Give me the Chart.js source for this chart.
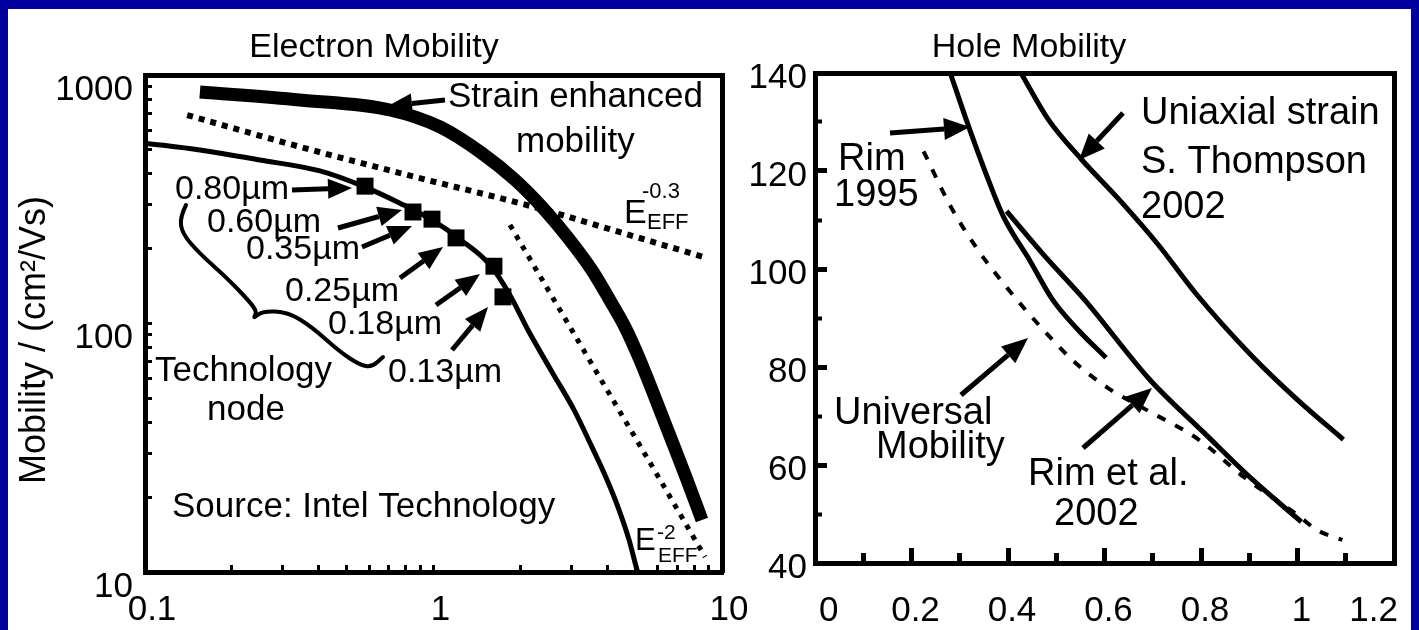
<!DOCTYPE html>
<html>
<head>
<meta charset="utf-8">
<script src="https://cdn.jsdelivr.net/npm/chart.js@4.4.1/dist/chart.umd.min.js"></script>
<style>
  html, body { margin: 0; padding: 0; background: #00009c; }
  body { width: 1419px; height: 630px; position: relative; overflow: hidden; }
  #panel { position: absolute; left: 8px; top: 9px; width: 1403px; height: 621px; background: #fff; }
  #electron { position: absolute; left: 0; top: 0; }
  #hole { position: absolute; left: 730px; top: 0; }
</style>
</head>
<body>
<div id="panel"></div>
<canvas id="electron" width="774" height="630"></canvas>
<canvas id="hole" width="709" height="630"></canvas>
<script>
// ---------- Electron mobility (log-log): effective field vs mobility ----------
const electronFieldTicks = [0.1, 1, 10];
const electronFieldMinor = [0.2, 0.3, 0.4, 0.5, 0.6, 0.7, 0.8, 0.9, 2, 3, 4, 5, 6, 7, 8, 9];
const electronMobilityTicks = [10, 100, 1000];
const electronMobilityMinor = [20, 30, 40, 50, 60, 70, 80, 90, 200, 300, 400, 500, 600, 700, 800, 900];

const strainField    = [0.155, 0.344, 0.707, 1.053, 1.47, 1.92, 2.38, 2.93, 3.54, 4.12, 4.61, 5.16, 5.81, 6.60, 7.50, 8.52];
const strainMobility = [854, 793, 723, 618, 485, 378, 294, 221, 164, 122, 96.8, 72.6, 51.6, 35.3, 24.1, 16.2];

const siliconField    = [0.1, 0.155, 0.25, 0.404, 0.579, 0.765, 0.988, 1.256, 1.57, 1.841, 2.126, 2.575, 3.069, 3.543, 3.994, 4.395, 4.76, 5.075, 5.2];
const siliconMobility = [532, 499, 455, 411, 354, 305, 261, 215, 172, 130, 94.1, 63.8, 44.9, 31.8, 23.5, 17.8, 13.5, 10.2, 9.3];

const phononField    = [0.14, 0.326, 0.765, 2.285, 4.43, 8.87];
const phononMobility = [690, 523, 403, 292, 233, 183.5];

const roughnessField    = [1.841, 2.745, 4.09, 6.10, 8.73];
const roughnessMobility = [249, 113.3, 51.6, 23.5, 11.5];

const nodeLabels   = ['0.80µm', '0.60µm', '0.35µm', '0.25µm', '0.18µm', '0.13µm'];
const nodeField    = [0.579, 0.849, 0.988, 1.197, 1.62, 1.741];
const nodeMobility = [357, 281, 263, 221, 170, 128];

// ---------- Hole mobility (linear) ----------
const holeFieldTicks = [0, 0.2, 0.4, 0.6, 0.8, 1, 1.2];
const holeFieldMinor = [0.1, 0.3, 0.5, 0.7, 0.9, 1.1];
const holeMobilityTicks = [40, 60, 80, 100, 120, 140];
const holeMobilityMinor = [50, 70, 90, 110, 130];

const rim1995Field    = [0.281, 0.318, 0.353, 0.390, 0.446, 0.492, 0.545, 0.603];
const rim1995Mobility = [139.8, 129.2, 119.8, 110.8, 101.6, 93.8, 87.6, 81.9];

const rim2002Field    = [0.397, 0.473, 0.558, 0.694, 0.806, 0.907, 1.008];
const rim2002Mobility = [111.8, 103.0, 93.8, 77.4, 66.6, 57.0, 48.4];

const thompsonField    = [0.428, 0.483, 0.552, 0.630, 0.711, 0.791, 0.907, 1.0, 1.095];
const thompsonMobility = [139.8, 130.6, 122.4, 114.2, 105.0, 94.8, 82.1, 73.3, 65.2];

const universalField    = [0.225, 0.281, 0.337, 0.401, 0.473, 0.539, 0.612, 0.686, 0.795, 0.888, 1.0, 1.041, 1.093];
const universalMobility = [124.0, 112.8, 104.0, 95.8, 87.6, 80.9, 75.4, 71.3, 65.2, 57.6, 49.8, 46.7, 44.7];

// ---------- helpers ----------
const FONT = "'Liberation Sans', Arial, Helvetica, sans-serif";
Chart.defaults.font.family = FONT;
Chart.defaults.color = '#000';

const pts = (xs, ys) => xs.map((x, i) => ({ x, y: ys[i] }));
const tickList = (a, b) => [...a, ...b].sort((p, q) => p - q).map(v => ({ value: v }));

function drawArrow(ctx, x1, y1, x2, y2, w, hl, hw) {
  const a = Math.atan2(y2 - y1, x2 - x1);
  const bx = x2 - hl * Math.cos(a), by = y2 - hl * Math.sin(a);
  ctx.lineWidth = w;
  ctx.lineCap = 'butt';
  ctx.beginPath(); ctx.moveTo(x1, y1); ctx.lineTo(bx, by); ctx.stroke();
  ctx.beginPath();
  ctx.moveTo(x2, y2);
  ctx.lineTo(bx + hw / 2 * Math.sin(a), by - hw / 2 * Math.cos(a));
  ctx.lineTo(bx - hw / 2 * Math.sin(a), by + hw / 2 * Math.cos(a));
  ctx.closePath(); ctx.fill();
}

// Annotation layer: text, arrows, braces and E_EFF power-law labels,
// placed relative to the chart area's top-left corner.
function notes(spec) {
  return {
    id: 'notes',
    afterDraw(chart) {
      const { ctx, chartArea: ca } = chart;
      const X = dx => ca.left + dx, Y = dy => ca.top + dy;
      ctx.save();
      ctx.fillStyle = '#000';
      ctx.strokeStyle = '#000';
      ctx.textBaseline = 'middle';
      for (const n of spec.texts) {
        ctx.save();
        ctx.font = `${n.size}px ${FONT}`;
        ctx.textAlign = n.align || 'left';
        ctx.translate(X(n.dx), Y(n.dy));
        if (n.rotate) ctx.rotate(n.rotate);
        ctx.fillText(n.text, 0, 0);
        ctx.restore();
      }
      ctx.textBaseline = 'alphabetic';
      ctx.textAlign = 'left';
      for (const e of spec.powers || []) {
        ctx.font = `${e.size}px ${FONT}`;
        ctx.fillText('E', X(e.dx), Y(e.dy));
        ctx.font = `${e.small}px ${FONT}`;
        ctx.fillText(e.exp, X(e.dx + e.supDx), Y(e.dy + e.supDy));
        ctx.fillText('EFF', X(e.dx + e.subDx), Y(e.dy + e.subDy));
      }
      for (const a of spec.arrows) {
        drawArrow(ctx, X(a[0]), Y(a[1]), X(a[2]), Y(a[3]), spec.arrowWidth, spec.headLength, spec.headWidth);
      }
      for (const p of spec.paths || []) {
        ctx.lineWidth = p.width;
        ctx.lineJoin = 'round';
        ctx.lineCap = 'round';
        ctx.beginPath();
        ctx.moveTo(X(p.pts[0][0]), Y(p.pts[0][1]));
        for (let i = 1; i < p.pts.length - 1; i++) {
          const mx = (p.pts[i][0] + p.pts[i + 1][0]) / 2, my = (p.pts[i][1] + p.pts[i + 1][1]) / 2;
          ctx.quadraticCurveTo(X(p.pts[i][0]), Y(p.pts[i][1]), X(mx), Y(my));
        }
        const last = p.pts[p.pts.length - 1];
        ctx.lineTo(X(last[0]), Y(last[1]));
        ctx.stroke();
      }
      ctx.restore();
    }
  };
}

const nodeLabelPos = [[30, 115], [62, 148], [101, 175], [140, 217], [183, 250], [243, 298]];

const electronNotes = notes({
  texts: [
    { text: 'Electron Mobility', dx: 229, dy: -27, size: 34, align: 'center' },
    { text: 'Mobility / (cm²/Vs)', dx: -110, dy: 265, size: 36, align: 'center', rotate: -Math.PI / 2 },
    { text: 'Strain enhanced', dx: 303, dy: 22, size: 35 },
    { text: 'mobility', dx: 371, dy: 67, size: 35 },
    { text: 'Technology', dx: 10, dy: 296, size: 35 },
    { text: 'node', dx: 62, dy: 335, size: 35 },
    { text: 'Source: Intel Technology', dx: 27, dy: 432, size: 35 },
    ...nodeLabels.map((t, i) => ({ text: t, dx: nodeLabelPos[i][0], dy: nodeLabelPos[i][1], size: 34 }))
  ],
  powers: [
    { dx: 479, dy: 148, size: 34, small: 22, exp: '-0.3', supDx: 18, supDy: -25, subDx: 23, subDy: 6 },
    { dx: 490, dy: 475, size: 31, small: 21, exp: '-2', supDx: 22, supDy: -11, subDx: 23, subDy: 12 }
  ],
  arrows: [
    [300, 25, 243, 31],
    [147, 115, 207, 113],
    [193, 153, 257, 135],
    [217, 172, 267, 151],
    [255, 203, 298, 172],
    [291, 230, 335, 199],
    [307, 275, 343, 232]
  ],
  arrowWidth: 5, headLength: 24, headWidth: 20,
  paths: [
    { width: 4, pts: [[41, 130], [35, 142], [37, 158], [53, 177], [83, 204], [105, 227], [112, 237], [108, 244], [117, 236], [143, 237], [167, 252], [195, 277], [215, 290], [227, 292], [238, 282]] }
  ]
});

const holeNotes = notes({
  texts: [
    { text: 'Hole Mobility', dx: 214, dy: -25, size: 34, align: 'center' },
    { text: 'Rim', dx: 23, dy: 87, size: 38 },
    { text: '1995', dx: 19, dy: 123, size: 38 },
    { text: 'Uniaxial strain', dx: 326, dy: 41, size: 38 },
    { text: 'S. Thompson', dx: 326, dy: 90, size: 38 },
    { text: '2002', dx: 326, dy: 135, size: 38 },
    { text: 'Universal', dx: 19, dy: 341, size: 38 },
    { text: 'Mobility', dx: 61, dy: 375, size: 38 },
    { text: 'Rim et al.', dx: 213, dy: 402, size: 38 },
    { text: '2002', dx: 239, dy: 442, size: 38 }
  ],
  arrows: [
    [75, 60, 155, 54],
    [308, 40, 264, 87],
    [146, 322, 213, 265],
    [268, 375, 337, 315]
  ],
  arrowWidth: 5, headLength: 26, headWidth: 22
});

const line = (data, width, dash, extra = {}) => Object.assign({
  data, borderColor: '#000', borderWidth: width, borderDash: dash,
  pointRadius: 0, fill: false, cubicInterpolationMode: 'monotone', borderCapStyle: 'butt'
}, extra);

const frameAxis = (position, size) => ({
  position, type: 'linear', display: true,
  afterFit: s => { if (position === 'top' || position === 'bottom') s.height = size; else s.width = size; },
  ticks: { display: false },
  grid: { display: false },
  border: { display: true, width: 5, color: '#000' }
});

// ---------- Electron chart ----------
new Chart(document.getElementById('electron'), {
  type: 'line',
  data: {
    datasets: [
      line(pts(strainField, strainMobility), 13, []),
      line(pts(phononField, phononMobility), 6, [6, 6]),
      line(pts(siliconField, siliconMobility), 5, []),
      line(pts(roughnessField, roughnessMobility), 5, [5, 7]),
      line(pts(nodeField, nodeMobility), 0, [], { showLine: false, pointRadius: 12, pointStyle: 'rect', pointBackgroundColor: '#000', pointBorderWidth: 0 })
    ]
  },
  options: {
    responsive: false, animation: false, devicePixelRatio: 1,
    layout: { padding: 0 },
    plugins: { legend: { display: false }, tooltip: { enabled: false }, title: { display: false } },
    scales: {
      x: {
        type: 'logarithmic', position: 'bottom', min: 0.1, max: 10,
        afterBuildTicks: s => { s.ticks = tickList(electronFieldTicks, electronFieldMinor); },
        afterFit: s => { s.height = 58; },
        ticks: { autoSkip: false, maxRotation: 0, padding: 24, labelOffset: 7, font: { size: 35 }, color: '#000',
                 callback: v => electronFieldTicks.includes(v) ? String(v) : '' },
        grid: { display: true, drawOnChartArea: false, drawTicks: true, tickLength: -7, tickWidth: 3, tickColor: '#000' },
        border: { display: true, width: 5, color: '#000' }
      },
      y: {
        type: 'logarithmic', position: 'left', min: 10, max: 1000,
        afterBuildTicks: s => { s.ticks = tickList(electronMobilityTicks, electronMobilityMinor); },
        afterFit: s => { s.width = 145; },
        ticks: { autoSkip: false, padding: 19, labelOffset: 15, font: { size: 35 }, color: '#000',
                 callback: v => electronMobilityTicks.includes(v) ? String(v) : '' },
        grid: { display: true, drawOnChartArea: false, drawTicks: true, tickLength: -7, tickWidth: 3, tickColor: '#000' },
        border: { display: true, width: 5, color: '#000' }
      },
      x2: frameAxis('top', 75),
      y2: frameAxis('right', 52)
    }
  },
  plugins: [electronNotes]
});

// ---------- Hole chart ----------
new Chart(document.getElementById('hole'), {
  type: 'line',
  data: {
    datasets: [
      line(pts(rim1995Field, rim1995Mobility), 5, []),
      line(pts(rim2002Field, rim2002Mobility), 5, []),
      line(pts(thompsonField, thompsonMobility), 5, []),
      line(pts(universalField, universalMobility), 4, [9, 11])
    ]
  },
  options: {
    responsive: false, animation: false, devicePixelRatio: 1,
    layout: { padding: 0 },
    plugins: { legend: { display: false }, tooltip: { enabled: false }, title: { display: false } },
    scales: {
      x: {
        type: 'linear', position: 'bottom', min: 0, max: 1.2, weight: 1,
        afterBuildTicks: s => { s.ticks = holeFieldTicks.map(v => ({ value: v })); },
        afterFit: s => { s.height = 67; },
        ticks: { autoSkip: false, maxRotation: 0, align: 'inner', padding: 42, labelOffset: 4, font: { size: 35 }, color: '#000',
                 callback: v => String(v) },
        grid: { display: true, drawOnChartArea: false, drawTicks: true, tickLength: -15, tickWidth: 5, tickColor: '#000' },
        border: { display: true, width: 5, color: '#000' }
      },
      xMinor: {
        type: 'linear', position: 'bottom', min: 0, max: 1.2, weight: 0,
        afterBuildTicks: s => { s.ticks = holeFieldMinor.map(v => ({ value: v })); },
        afterFit: s => { s.height = 0; },
        ticks: { display: false },
        grid: { display: true, drawOnChartArea: false, drawTicks: true, tickLength: -10, tickWidth: 5, tickColor: '#000' },
        border: { display: false }
      },
      y: {
        type: 'linear', position: 'left', min: 40, max: 140, weight: 1,
        afterBuildTicks: s => { s.ticks = holeMobilityTicks.map(v => ({ value: v })); },
        afterFit: s => { s.width = 85; },
        ticks: { autoSkip: false, padding: 20, labelOffset: 5, font: { size: 35 }, color: '#000', callback: v => String(v) },
        grid: { display: true, drawOnChartArea: false, drawTicks: true, tickLength: -12, tickWidth: 5, tickColor: '#000' },
        border: { display: true, width: 5, color: '#000' }
      },
      yMinor: {
        type: 'linear', position: 'left', min: 40, max: 140, weight: 0,
        afterBuildTicks: s => { s.ticks = holeMobilityMinor.map(v => ({ value: v })); },
        afterFit: s => { s.width = 0; },
        ticks: { display: false },
        grid: { display: true, drawOnChartArea: false, drawTicks: true, tickLength: -7, tickWidth: 4, tickColor: '#000' },
        border: { display: false }
      },
      x2: frameAxis('top', 73),
      y2: frameAxis('right', 45)
    }
  },
  plugins: [holeNotes]
});
</script>
</body>
</html>
